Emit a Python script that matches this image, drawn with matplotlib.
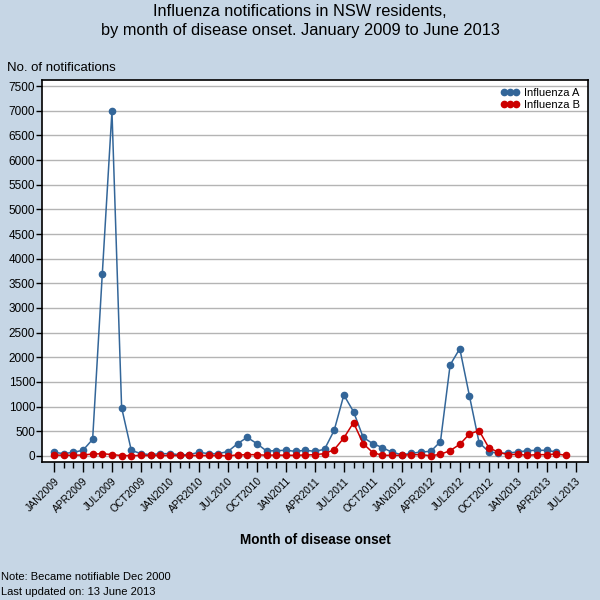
import matplotlib
matplotlib.use("Agg")
import matplotlib.pyplot as plt
from matplotlib.ticker import MultipleLocator, FixedLocator

plt.rcParams['font.family'] = ['Liberation Sans', 'DejaVu Sans']

months = list(range(54))
tick_labels = ["JAN2009", "APR2009", "JUL2009", "OCT2009", "JAN2010", "APR2010", "JUL2010",
               "OCT2010", "JAN2011", "APR2011", "JUL2011", "OCT2011", "JAN2012", "APR2012",
               "JUL2012", "OCT2012", "JAN2013", "APR2013", "JUL2013"]

flu_a = [75, 47, 75, 115, 338, 3690, 6990, 980, 115, 47, 27, 47,
         47, 27, 27, 75, 47, 47, 90, 250, 378, 250, 101, 108,
         115, 95, 115, 95, 135, 520, 1236, 899, 378, 250, 169, 74,
         27, 54, 81, 95, 291, 1845, 2176, 1216, 270, 88, 54, 61,
         81, 108, 115, 115, 81]
flu_b = [20, 15, 15, 20, 40, 45, 30, 8, 8, 10, 10, 10,
         10, 10, 10, 10, 10, 10, 5, 20, 27, 27, 14, 20,
         14, 14, 20, 27, 47, 128, 365, 676, 250, 68, 14, 14,
         14, 27, 27, 5, 34, 108, 236, 446, 514, 169, 74, 27,
         34, 14, 27, 27, 41, 14]

bg = '#C6D6E5'
blue = '#336699'
red = '#CC0000'

fig = plt.figure(figsize=(6, 6), dpi=100, facecolor=bg)
ax = fig.add_axes([42/600, 1-462/600, 546/600, 382/600])
ax.set_facecolor('white')

ax.plot(months[:len(flu_a)], flu_a, color=blue, lw=1.1, marker='o', ms=4.5,
        label='Influenza A', zorder=3)
ax.plot(months[:len(flu_b)], flu_b, color=red, lw=1.1, marker='o', ms=4.5,
        label='Influenza B', zorder=4)

ax.set_xlim(-1.24, 55.27)
ax.set_ylim(-122, 7622)
ax.yaxis.set_major_locator(MultipleLocator(500))
ax.grid(axis='y', color='#B4B4B4', lw=1)
ax.set_axisbelow(True)
ax.tick_params(axis='y', labelsize=8.5, length=4, width=1, pad=1)

ax.xaxis.set_major_locator(FixedLocator(list(range(0, 55, 3))))
ax.xaxis.set_minor_locator(FixedLocator(list(range(0, 55))))
ax.set_xticklabels(tick_labels, rotation=45, ha='right', va='top',
                   rotation_mode='anchor', fontsize=7.5)
ax.tick_params(axis='x', which='major', length=7, width=1, pad=3)
ax.tick_params(axis='x', which='minor', length=4, width=1)
for sp in ax.spines.values():
    sp.set_linewidth(1.2)

ax.legend(loc='upper right', frameon=False, numpoints=3, fontsize=8,
          handlelength=1.7, handletextpad=0.4, borderaxespad=0.3,
          labelspacing=0.2, markerscale=1.0)

fig.text(0.5, 1-11/600, "Influenza notifications in NSW residents,", ha='center',
         va='center', fontsize=11.8)
fig.text(0.5, 1-30/600, "by month of disease onset. January 2009 to June 2013", ha='center',
         va='center', fontsize=11.8)
fig.text(7/600, 1-68/600, "No. of notifications", ha='left', va='center', fontsize=9.5)
fig.text(315/600, 1-540/600, "Month of disease onset", ha='center', va='center',
         fontsize=9.8, fontweight='bold')
fig.text(1/600, 1-577/600, "Note: Became notifiable Dec 2000", ha='left', va='center', fontsize=8)
fig.text(1/600, 1-592/600, "Last updated on: 13 June 2013", ha='left', va='center', fontsize=8)

fig.savefig('out.png', dpi=100, facecolor=bg)
